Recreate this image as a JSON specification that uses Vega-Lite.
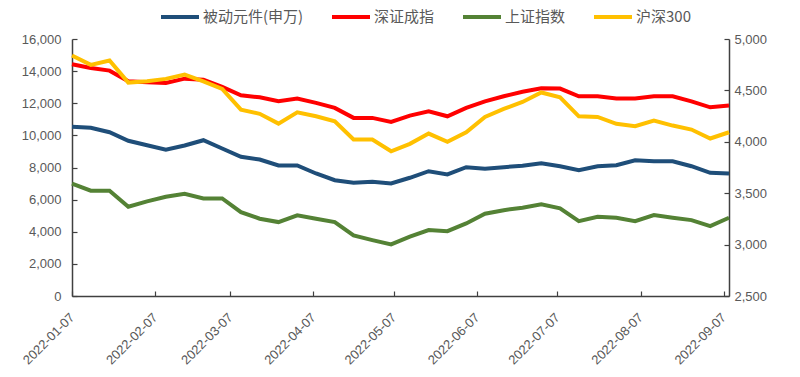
{
  "$schema": "https://vega.github.io/schema/vega-lite/v6.json",
  "width": 657,
  "height": 257,
  "autosize": {"type": "none"},
  "padding": {"left": 72, "top": 39, "right": 71, "bottom": 81},
  "background": "white",
  "config": {"view": {"stroke": null}, "font": "Liberation Sans"},
  "data": {"values": [
    {"d":"2022-01-07","s":"被动元件(申万)","v":10530},{"d":"2022-01-14","s":"被动元件(申万)","v":10468},{"d":"2022-01-21","s":"被动元件(申万)","v":10194},{"d":"2022-01-28","s":"被动元件(申万)","v":9666},{"d":"2022-02-04","s":"被动元件(申万)","v":9386},{"d":"2022-02-11","s":"被动元件(申万)","v":9106},{"d":"2022-02-18","s":"被动元件(申万)","v":9368},{"d":"2022-02-25","s":"被动元件(申万)","v":9697},{"d":"2022-03-04","s":"被动元件(申万)","v":9181},{"d":"2022-03-11","s":"被动元件(申万)","v":8665},{"d":"2022-03-18","s":"被动元件(申万)","v":8497},{"d":"2022-03-25","s":"被动元件(申万)","v":8124},{"d":"2022-04-01","s":"被动元件(申万)","v":8124},{"d":"2022-04-08","s":"被动元件(申万)","v":7627},{"d":"2022-04-15","s":"被动元件(申万)","v":7211},{"d":"2022-04-22","s":"被动元件(申万)","v":7049},{"d":"2022-04-29","s":"被动元件(申万)","v":7111},{"d":"2022-05-06","s":"被动元件(申万)","v":7005},{"d":"2022-05-13","s":"被动元件(申万)","v":7360},{"d":"2022-05-20","s":"被动元件(申万)","v":7770},{"d":"2022-05-27","s":"被动元件(申万)","v":7565},{"d":"2022-06-03","s":"被动元件(申万)","v":8019},{"d":"2022-06-10","s":"被动元件(申万)","v":7919},{"d":"2022-06-17","s":"被动元件(申万)","v":8019},{"d":"2022-06-24","s":"被动元件(申万)","v":8112},{"d":"2022-07-01","s":"被动元件(申万)","v":8261},{"d":"2022-07-08","s":"被动元件(申万)","v":8081},{"d":"2022-07-15","s":"被动元件(申万)","v":7832},{"d":"2022-07-22","s":"被动元件(申万)","v":8081},{"d":"2022-07-29","s":"被动元件(申万)","v":8143},{"d":"2022-08-05","s":"被动元件(申万)","v":8454},{"d":"2022-08-12","s":"被动元件(申万)","v":8392},{"d":"2022-08-19","s":"被动元件(申万)","v":8392},{"d":"2022-08-26","s":"被动元件(申万)","v":8081},{"d":"2022-09-02","s":"被动元件(申万)","v":7671},{"d":"2022-09-09","s":"被动元件(申万)","v":7627},
    {"d":"2022-01-07","s":"深证成指","v":14430},{"d":"2022-01-14","s":"深证成指","v":14197},{"d":"2022-01-21","s":"深证成指","v":14030},{"d":"2022-01-28","s":"深证成指","v":13364},{"d":"2022-02-04","s":"深证成指","v":13315},{"d":"2022-02-11","s":"深证成指","v":13265},{"d":"2022-02-18","s":"深证成指","v":13532},{"d":"2022-02-25","s":"深证成指","v":13470},{"d":"2022-03-04","s":"深证成指","v":13016},{"d":"2022-03-11","s":"深证成指","v":12494},{"d":"2022-03-18","s":"深证成指","v":12370},{"d":"2022-03-25","s":"深证成指","v":12121},{"d":"2022-04-01","s":"深证成指","v":12289},{"d":"2022-04-08","s":"深证成指","v":12022},{"d":"2022-04-15","s":"深证成指","v":11711},{"d":"2022-04-22","s":"深证成指","v":11089},{"d":"2022-04-29","s":"深证成指","v":11089},{"d":"2022-05-06","s":"深证成指","v":10841},{"d":"2022-05-13","s":"深证成指","v":11232},{"d":"2022-05-20","s":"深证成指","v":11500},{"d":"2022-05-27","s":"深证成指","v":11189},{"d":"2022-06-03","s":"深证成指","v":11711},{"d":"2022-06-10","s":"深证成指","v":12121},{"d":"2022-06-17","s":"深证成指","v":12432},{"d":"2022-06-24","s":"深证成指","v":12712},{"d":"2022-07-01","s":"深证成指","v":12929},{"d":"2022-07-08","s":"深证成指","v":12911},{"d":"2022-07-15","s":"深证成指","v":12432},{"d":"2022-07-22","s":"深证成指","v":12432},{"d":"2022-07-29","s":"深证成指","v":12289},{"d":"2022-08-05","s":"深证成指","v":12289},{"d":"2022-08-12","s":"深证成指","v":12432},{"d":"2022-08-19","s":"深证成指","v":12432},{"d":"2022-08-26","s":"深证成指","v":12121},{"d":"2022-09-02","s":"深证成指","v":11748},{"d":"2022-09-09","s":"深证成指","v":11854},
    {"d":"2022-01-07","s":"上证指数","v":3592},{"d":"2022-01-14","s":"上证指数","v":3524},{"d":"2022-01-21","s":"上证指数","v":3524},{"d":"2022-01-28","s":"上证指数","v":3369},{"d":"2022-02-04","s":"上证指数","v":3420},{"d":"2022-02-11","s":"上证指数","v":3465},{"d":"2022-02-18","s":"上证指数","v":3495},{"d":"2022-02-25","s":"上证指数","v":3449},{"d":"2022-03-04","s":"上证指数","v":3449},{"d":"2022-03-11","s":"上证指数","v":3316},{"d":"2022-03-18","s":"上证指数","v":3252},{"d":"2022-03-25","s":"上证指数","v":3219},{"d":"2022-04-01","s":"上证指数","v":3284},{"d":"2022-04-08","s":"上证指数","v":3252},{"d":"2022-04-15","s":"上证指数","v":3219},{"d":"2022-04-22","s":"上证指数","v":3090},{"d":"2022-04-29","s":"上证指数","v":3044},{"d":"2022-05-06","s":"上证指数","v":3002},{"d":"2022-05-13","s":"上证指数","v":3077},{"d":"2022-05-20","s":"上证指数","v":3141},{"d":"2022-05-27","s":"上证指数","v":3131},{"d":"2022-06-03","s":"上证指数","v":3206},{"d":"2022-06-10","s":"上证指数","v":3300},{"d":"2022-06-17","s":"上证指数","v":3335},{"d":"2022-06-24","s":"上证指数","v":3359},{"d":"2022-07-01","s":"上证指数","v":3391},{"d":"2022-07-08","s":"上证指数","v":3352},{"d":"2022-07-15","s":"上证指数","v":3228},{"d":"2022-07-22","s":"上证指数","v":3271},{"d":"2022-07-29","s":"上证指数","v":3261},{"d":"2022-08-05","s":"上证指数","v":3228},{"d":"2022-08-12","s":"上证指数","v":3287},{"d":"2022-08-19","s":"上证指数","v":3261},{"d":"2022-08-26","s":"上证指数","v":3238},{"d":"2022-09-02","s":"上证指数","v":3180},{"d":"2022-09-09","s":"上证指数","v":3261},
    {"d":"2022-01-07","s":"沪深300","v":4840},{"d":"2022-01-14","s":"沪深300","v":4748},{"d":"2022-01-21","s":"沪深300","v":4791},{"d":"2022-01-28","s":"沪深300","v":4576},{"d":"2022-02-04","s":"沪深300","v":4590},{"d":"2022-02-11","s":"沪深300","v":4612},{"d":"2022-02-18","s":"沪深300","v":4653},{"d":"2022-02-25","s":"沪深300","v":4588},{"d":"2022-03-04","s":"沪深300","v":4514},{"d":"2022-03-11","s":"沪深300","v":4313},{"d":"2022-03-18","s":"沪深300","v":4272},{"d":"2022-03-25","s":"沪深300","v":4177},{"d":"2022-04-01","s":"沪深300","v":4287},{"d":"2022-04-08","s":"沪深300","v":4248},{"d":"2022-04-15","s":"沪深300","v":4200},{"d":"2022-04-22","s":"沪深300","v":4022},{"d":"2022-04-29","s":"沪深300","v":4022},{"d":"2022-05-06","s":"沪深300","v":3908},{"d":"2022-05-13","s":"沪深300","v":3980},{"d":"2022-05-20","s":"沪深300","v":4080},{"d":"2022-05-27","s":"沪深300","v":4000},{"d":"2022-06-03","s":"沪深300","v":4093},{"d":"2022-06-10","s":"沪深300","v":4242},{"d":"2022-06-17","s":"沪深300","v":4320},{"d":"2022-06-24","s":"沪深300","v":4388},{"d":"2022-07-01","s":"沪深300","v":4480},{"d":"2022-07-08","s":"沪深300","v":4433},{"d":"2022-07-15","s":"沪深300","v":4248},{"d":"2022-07-22","s":"沪深300","v":4242},{"d":"2022-07-29","s":"沪深300","v":4175},{"d":"2022-08-05","s":"沪深300","v":4151},{"d":"2022-08-12","s":"沪深300","v":4207},{"d":"2022-08-19","s":"沪深300","v":4158},{"d":"2022-08-26","s":"沪深300","v":4119},{"d":"2022-09-02","s":"沪深300","v":4032},{"d":"2022-09-09","s":"沪深300","v":4093}
  ]},
  "encoding": {
    "x": {
      "field": "d", "type": "temporal",
      "scale": {"type": "utc", "domain": [{"year": 2022, "month": 1, "date": 7, "utc": true}, {"year": 2022, "month": 9, "date": 9, "utc": true}]},
      "axis": {
        "title": null, "grid": false,
        "values": [
          {"year": 2022, "month": 1, "date": 7, "utc": true},
          {"year": 2022, "month": 2, "date": 7, "utc": true},
          {"year": 2022, "month": 3, "date": 7, "utc": true},
          {"year": 2022, "month": 4, "date": 7, "utc": true},
          {"year": 2022, "month": 5, "date": 7, "utc": true},
          {"year": 2022, "month": 6, "date": 7, "utc": true},
          {"year": 2022, "month": 7, "date": 7, "utc": true},
          {"year": 2022, "month": 8, "date": 7, "utc": true},
          {"year": 2022, "month": 9, "date": 7, "utc": true}
        ],
        "format": "%Y-%m-%d",
        "labelAngle": -45, "labelAlign": "right", "labelBaseline": "middle",
        "labelFontSize": 13, "labelColor": "#595959", "labelFont": "Liberation Sans",
        "domainColor": "#404040", "domainWidth": 1.5, "tickColor": "#404040", "tickSize": -5, "tickWidth": 1.2,
        "labelPadding": 24, "labelOverlap": false, "labelFlush": false
      }
    },
    "color": {
      "field": "s", "type": "nominal",
      "scale": {"domain": ["被动元件(申万)", "深证成指", "上证指数", "沪深300"], "range": ["#1F4E79", "#FF0000", "#548235", "#FFC000"]},
      "legend": {
        "orient": "none", "legendX": 87, "legendY": -43, "direction": "horizontal", "title": null,
        "symbolType": "stroke", "symbolSize": 1444, "symbolStrokeWidth": 4,
        "labelFont": "Noto Sans CJK SC", "labelFontSize": 15, "labelColor": "#595959",
        "columnPadding": 20, "labelOffset": 2
      }
    }
  },
  "layer": [
    {
      "transform": [{"filter": {"field": "s", "oneOf": ["被动元件(申万)", "深证成指"]}}],
      "mark": {"type": "line", "strokeWidth": 4},
      "encoding": {
        "y": {
          "field": "v", "type": "quantitative",
          "scale": {"domain": [0, 16000], "nice": false},
          "axis": {
            "orient": "left", "title": null, "grid": false, "format": ",.0f",
            "values": [0, 2000, 4000, 6000, 8000, 10000, 12000, 14000, 16000],
            "labelFontSize": 13, "labelColor": "#595959", "labelFont": "Liberation Sans",
            "domainColor": "#404040", "domainWidth": 1.5, "tickColor": "#404040", "tickSize": -5, "tickWidth": 1.2,
            "labelPadding": 16
          }
        }
      }
    },
    {
      "transform": [{"filter": {"field": "s", "oneOf": ["上证指数", "沪深300"]}}],
      "mark": {"type": "line", "strokeWidth": 4},
      "encoding": {
        "y": {
          "field": "v", "type": "quantitative",
          "scale": {"domain": [2500, 5000], "nice": false, "zero": false},
          "axis": {
            "orient": "right", "title": null, "grid": false, "format": ",.0f",
            "values": [2500, 3000, 3500, 4000, 4500, 5000],
            "labelFontSize": 13, "labelColor": "#595959", "labelFont": "Liberation Sans",
            "domainColor": "#404040", "domainWidth": 1.5, "tickColor": "#404040", "tickSize": -5, "tickWidth": 1.2,
            "labelPadding": 10
          }
        }
      }
    }
  ],
  "resolve": {"scale": {"y": "independent"}}
}
